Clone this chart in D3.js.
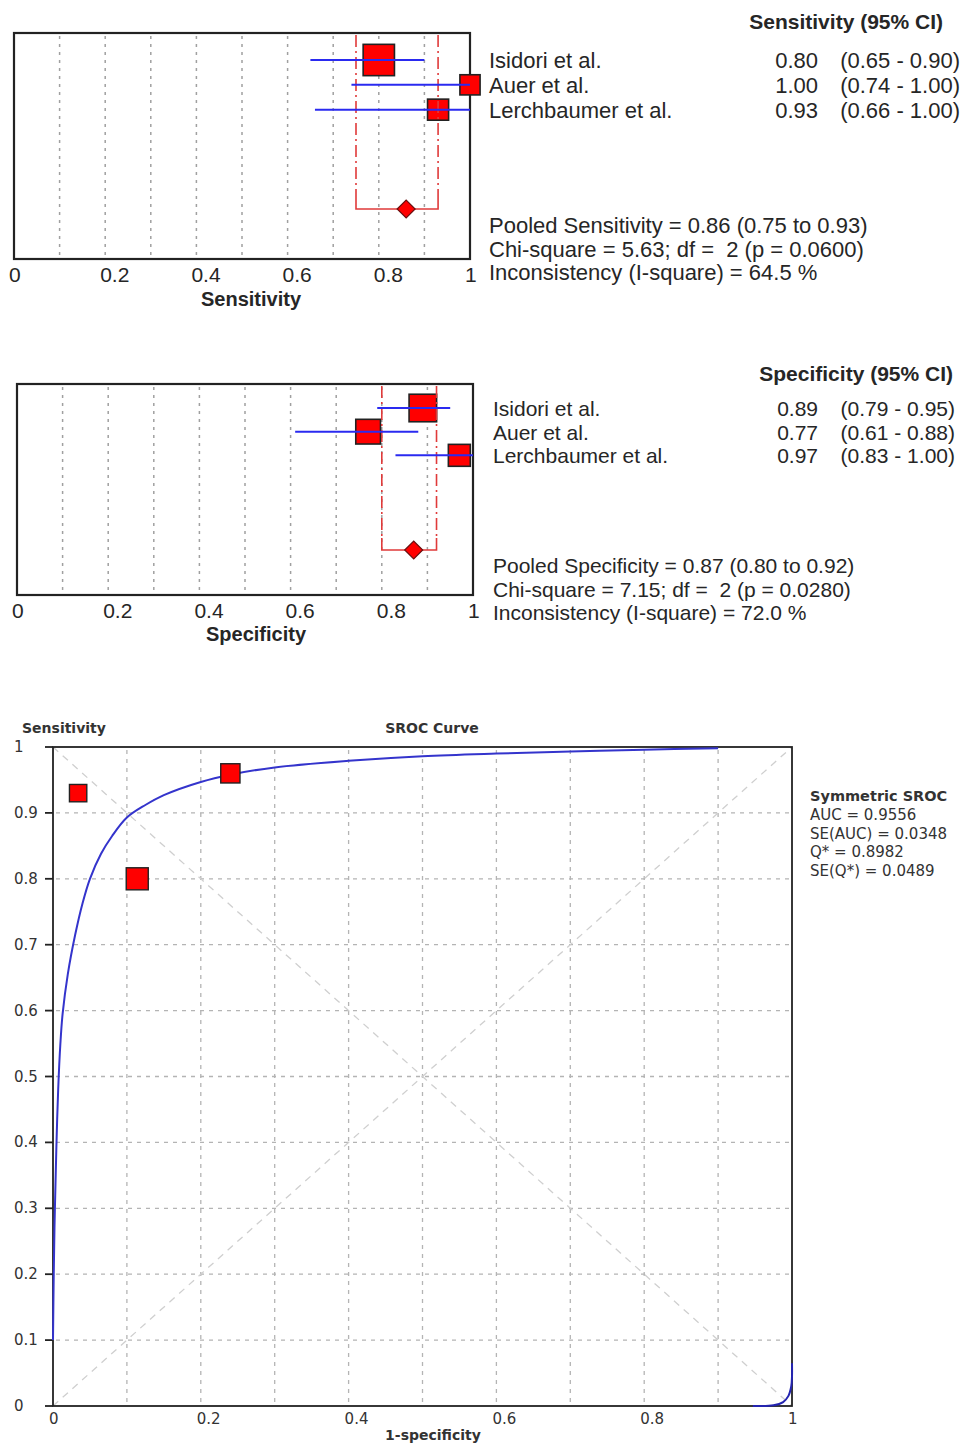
<!DOCTYPE html>
<html>
<head>
<meta charset="utf-8">
<script src="https://cdn.jsdelivr.net/npm/d3@7"></script>
<style>
  body { margin: 0; background: #fff; }
  svg text { white-space: pre; }
</style>
</head>
<body>
<svg width="965" height="1445"></svg>
<script>

// ---- data ----
var studies = ["Isidori et al.", "Auer et al.", "Lerchbaumer et al."];

var sensEst = [0.80, 1.00, 0.93];
var sensLow = [0.65, 0.74, 0.66];
var sensHigh = [0.90, 1.00, 1.00];
var sensWeight = [53, 22, 24];
var sensPooled = [0.86, 0.75, 0.93];
var sensStats = [
  "Pooled Sensitivity = 0.86 (0.75 to 0.93)",
  "Chi-square = 5.63; df =  2 (p = 0.0600)",
  "Inconsistency (I-square) = 64.5 %"
];

var specEst = [0.89, 0.77, 0.97];
var specLow = [0.79, 0.61, 0.83];
var specHigh = [0.95, 0.88, 1.00];
var specWeight = [41, 33, 26];
var specPooled = [0.87, 0.80, 0.92];
var specStats = [
  "Pooled Specificity = 0.87 (0.80 to 0.92)",
  "Chi-square = 7.15; df =  2 (p = 0.0280)",
  "Inconsistency (I-square) = 72.0 %"
];

var forestTicks = [0, 0.2, 0.4, 0.6, 0.8, 1];
var forestTickLabels = ["0", "0.2", "0.4", "0.6", "0.8", "1"];
var forestGrid = [0.1, 0.2, 0.3, 0.4, 0.5, 0.6, 0.7, 0.8, 0.9];

// SROC points (1-specificity, sensitivity)
var srocFpr = [0.114, 0.24, 0.034];
var srocTpr = [0.80, 0.96, 0.93];
var srocWeight = [42, 32, 26];

// symmetric SROC curve
var curveFpr = [0, 0.001, 0.002, 0.003, 0.0045, 0.007, 0.010, 0.013, 0.020, 0.030, 0.040, 0.050,
                0.065, 0.08, 0.10, 0.125, 0.15, 0.20, 0.24, 0.30, 0.40, 0.50, 0.60, 0.70, 0.80, 0.90];
var curveTpr = [0.10, 0.20, 0.27, 0.32, 0.39, 0.48, 0.55, 0.595, 0.655, 0.715, 0.763, 0.80,
                0.838, 0.865, 0.893, 0.912, 0.927, 0.947, 0.958, 0.969, 0.979, 0.986, 0.990, 0.993, 0.996, 0.998];
// small hook drawn at the lower right corner
var hookFpr = [0.947, 0.975, 0.988, 0.995, 0.999, 1.0, 1.0];
var hookTpr = [0.0, 0.001, 0.006, 0.015, 0.03, 0.045, 0.065];

var srocTicks = [0, 0.1, 0.2, 0.3, 0.4, 0.5, 0.6, 0.7, 0.8, 0.9, 1];
var srocYLabels = ["0", "0.1", "0.2", "0.3", "0.4", "0.5", "0.6", "0.7", "0.8", "0.9", "1"];
var srocXTicks = [0, 0.2, 0.4, 0.6, 0.8, 1];
var srocXLabels = ["0", "0.2", "0.4", "0.6", "0.8", "1"];
var srocLegend = ["Symmetric SROC", "AUC = 0.9556", "SE(AUC) = 0.0348", "Q* = 0.8982", "SE(Q*) = 0.0489"];

// ---- drawing ----
var svg = d3.select("svg");
var FONT = "'Liberation Sans', Arial, sans-serif";
var TXT = "#262626";

function forest(p) {
  var g = svg.append("g");
  var x = d3.scaleLinear().domain([0, 1]).range([p.left, p.right]);
  var y = d3.scaleLinear().domain([0, 6]).range([p.row0, p.pooledY]);
  var size = d3.scaleSqrt().domain([0, 100]).range([0, 43]);

  g.selectAll(".grid").data(forestGrid).enter().append("line")
      .attr("x1", x).attr("x2", x)
      .attr("y1", p.top + 3).attr("y2", p.bottom - 3)
      .attr("stroke", "#a0a0a0").attr("stroke-width", 1.5)
      .attr("stroke-dasharray", "3,5");

  g.append("rect")
      .attr("x", p.left).attr("y", p.top)
      .attr("width", p.right - p.left).attr("height", p.bottom - p.top)
      .attr("fill", "none").attr("stroke", "#222").attr("stroke-width", 2.2);

  // study squares
  g.selectAll(".sq").data(p.est).enter().append("rect")
      .attr("x", function(d, i) { return x(d) - size(p.weight[i]) / 2; })
      .attr("y", function(d, i) { return y(i) - size(p.weight[i]) / 2; })
      .attr("width", function(d, i) { return size(p.weight[i]); })
      .attr("height", function(d, i) { return size(p.weight[i]); })
      .attr("fill", "#ff0000").attr("stroke", "#222").attr("stroke-width", 1.6);

  // pooled interval: dash-dot verticals + bracket
  var lo = p.pooled[1], hi = p.pooled[2], py = y(6);
  g.selectAll(".pl").data([lo, hi]).enter().append("line")
      .attr("x1", x).attr("x2", x)
      .attr("y1", p.top + 2).attr("y2", py - 12)
      .attr("stroke", "#e03a3a").attr("stroke-width", 1.6)
      .attr("stroke-dasharray", "12,4,2,4");
  g.append("path")
      .attr("d", "M" + x(lo) + "," + (py - 12) + "V" + py + "H" + x(hi) + "V" + (py - 12))
      .attr("fill", "none").attr("stroke", "#e03a3a").attr("stroke-width", 1.6);
  var cx = x(p.pooled[0]);
  g.append("path")
      .attr("d", "M" + (cx - 9) + "," + py + "L" + cx + "," + (py - 9) + "L" + (cx + 9) + "," + py + "L" + cx + "," + (py + 9) + "Z")
      .attr("fill", "#ff0000").attr("stroke", "#6a1010").attr("stroke-width", 1.2);

  // CI lines
  g.selectAll(".ci").data(p.est).enter().append("line")
      .attr("x1", function(d, i) { return x(p.low[i]); })
      .attr("x2", function(d, i) { return x(p.high[i]); })
      .attr("y1", function(d, i) { return y(i); })
      .attr("y2", function(d, i) { return y(i); })
      .attr("stroke", "#2a2af0").attr("stroke-width", 2);

  // axis labels
  g.selectAll(".tk").data(forestTicks).enter().append("text")
      .attr("x", function(d) { return x(d) - 5; })
      .attr("y", p.tickY)
      .attr("font-family", FONT).attr("font-size", 21).attr("fill", TXT)
      .text(function(d, i) { return forestTickLabels[i]; });
  g.append("text")
      .attr("x", p.labelX).attr("y", p.labelY).attr("text-anchor", "middle")
      .attr("font-family", FONT).attr("font-size", 20).attr("font-weight", "bold").attr("fill", TXT)
      .text(p.label);

  // right-hand table
  g.append("text")
      .attr("x", p.headX).attr("y", p.headY).attr("text-anchor", "end")
      .attr("font-family", FONT).attr("font-size", 21).attr("font-weight", "bold").attr("fill", TXT)
      .text(p.label + " (95% CI)");
  var rows = g.selectAll(".row").data(studies).enter().append("g");
  rows.append("text")
      .attr("x", p.nameX).attr("y", function(d, i) { return y(i) + 8; })
      .attr("font-family", FONT).attr("font-size", p.fs).attr("fill", TXT)
      .text(function(d) { return d; });
  rows.append("text")
      .attr("x", p.valX).attr("y", function(d, i) { return y(i) + 8; })
      .attr("text-anchor", "end")
      .attr("font-family", FONT).attr("font-size", p.fs).attr("fill", TXT)
      .text(function(d, i) { return p.est[i].toFixed(2); });
  rows.append("text")
      .attr("x", p.ciX).attr("y", function(d, i) { return y(i) + 8; })
      .attr("text-anchor", "end")
      .attr("font-family", FONT).attr("font-size", p.fs).attr("fill", TXT)
      .text(function(d, i) { return "(" + p.low[i].toFixed(2) + " - " + p.high[i].toFixed(2) + ")"; });

  g.selectAll(".st").data(p.stats).enter().append("text")
      .attr("x", p.nameX).attr("y", function(d, i) { return py + p.statDy + i * 23.5; })
      .attr("font-family", FONT).attr("font-size", p.fs).attr("fill", TXT)
      .text(function(d) { return d; });
}

forest({
  est: sensEst, low: sensLow, high: sensHigh, weight: sensWeight, pooled: sensPooled, stats: sensStats,
  label: "Sensitivity",
  left: 14, right: 470, top: 33, bottom: 259, row0: 60, pooledY: 209,
  tickY: 282, labelX: 251, labelY: 306, fs: 22,
  headX: 943, headY: 29, nameX: 489, valX: 818, ciX: 960, statDy: 24
});

forest({
  est: specEst, low: specLow, high: specHigh, weight: specWeight, pooled: specPooled, stats: specStats,
  label: "Specificity",
  left: 17, right: 473, top: 384, bottom: 595, row0: 408, pooledY: 550,
  tickY: 618, labelX: 256, labelY: 641, fs: 21,
  headX: 953, headY: 381, nameX: 493, valX: 818, ciX: 955, statDy: 23
});

// ---- SROC plot ----
var SF = "'DejaVu Sans', Verdana, sans-serif";
var sx = d3.scaleLinear().domain([0, 1]).range([53, 792]);
var sy = d3.scaleLinear().domain([0, 1]).range([1406, 747]);
var ssize = d3.scaleSqrt().domain([0, 100]).range([0, 34]);
var sg = svg.append("g");

var inner = srocTicks.slice(1, -1);
sg.selectAll(".vg").data(inner).enter().append("line")
    .attr("x1", sx).attr("x2", sx).attr("y1", sy(1) + 3).attr("y2", sy(0) - 3)
    .attr("stroke", "#b4b4b4").attr("stroke-width", 1.3).attr("stroke-dasharray", "4,5");
sg.selectAll(".hg").data(inner).enter().append("line")
    .attr("y1", sy).attr("y2", sy).attr("x1", sx(0) + 3).attr("x2", sx(1) - 3)
    .attr("stroke", "#b4b4b4").attr("stroke-width", 1.3).attr("stroke-dasharray", "4,5");

// diagonals
sg.append("line").attr("x1", sx(0)).attr("y1", sy(1)).attr("x2", sx(1)).attr("y2", sy(0))
    .attr("stroke", "#cfcfcf").attr("stroke-width", 1.3).attr("stroke-dasharray", "7,6");
sg.append("line").attr("x1", sx(0)).attr("y1", sy(0)).attr("x2", sx(1)).attr("y2", sy(1))
    .attr("stroke", "#cfcfcf").attr("stroke-width", 1.3).attr("stroke-dasharray", "7,6");

sg.append("rect").attr("x", sx(0)).attr("y", sy(1))
    .attr("width", sx(1) - sx(0)).attr("height", sy(0) - sy(1))
    .attr("fill", "none").attr("stroke", "#222").attr("stroke-width", 1.8);

// y ticks
sg.selectAll(".ytm").data(srocTicks).enter().append("line")
    .attr("x1", sx(0) - 8).attr("x2", sx(0)).attr("y1", sy).attr("y2", sy)
    .attr("stroke", "#222").attr("stroke-width", 1.8);
sg.selectAll(".ytl").data(srocTicks).enter().append("text")
    .attr("x", 14).attr("y", function(d) { return sy(d) + 5; })
    .attr("font-family", SF).attr("font-size", 15).attr("fill", "#333")
    .text(function(d, i) { return srocYLabels[i]; });
sg.selectAll(".xtl").data(srocXTicks).enter().append("text")
    .attr("x", function(d) { return sx(d) - 4; }).attr("y", 1424)
    .attr("font-family", SF).attr("font-size", 15).attr("fill", "#333")
    .text(function(d, i) { return srocXLabels[i]; });

// curve
function srocLine(xs, ys) {
  return d3.line()
      .x(function(d) { return sx(d[0]); })
      .y(function(d) { return sy(d[1]); })
      .curve(d3.curveCatmullRom)(d3.zip(xs, ys));
}
sg.append("path").attr("d", srocLine(curveFpr, curveTpr))
    .attr("fill", "none").attr("stroke", "#3434cc").attr("stroke-width", 2);
sg.append("path").attr("d", srocLine(hookFpr, hookTpr))
    .attr("fill", "none").attr("stroke", "#2424b0").attr("stroke-width", 2);

// study points
sg.selectAll(".pt").data(srocFpr).enter().append("rect")
    .attr("x", function(d, i) { return sx(d) - ssize(srocWeight[i]) / 2; })
    .attr("y", function(d, i) { return sy(srocTpr[i]) - ssize(srocWeight[i]) / 2; })
    .attr("width", function(d, i) { return ssize(srocWeight[i]); })
    .attr("height", function(d, i) { return ssize(srocWeight[i]); })
    .attr("fill", "#ff0000").attr("stroke", "#222").attr("stroke-width", 1.4);

// titles
sg.append("text").attr("x", 22).attr("y", 733)
    .attr("font-family", SF).attr("font-size", 14).attr("font-weight", "bold").attr("fill", "#333")
    .text("Sensitivity");
sg.append("text").attr("x", 432).attr("y", 733).attr("text-anchor", "middle")
    .attr("font-family", SF).attr("font-size", 14).attr("font-weight", "bold").attr("fill", "#333")
    .text("SROC Curve");
sg.append("text").attr("x", 433).attr("y", 1440).attr("text-anchor", "middle")
    .attr("font-family", SF).attr("font-size", 14).attr("font-weight", "bold").attr("fill", "#333")
    .text("1-specificity");

sg.selectAll(".lg").data(srocLegend).enter().append("text")
    .attr("x", 810).attr("y", function(d, i) { return 801 + i * 18.8; })
    .attr("font-family", SF)
    .attr("font-size", function(d, i) { return i === 0 ? 14.5 : 15; })
    .attr("font-weight", function(d, i) { return i === 0 ? "bold" : "normal"; })
    .attr("fill", "#333")
    .text(function(d) { return d; });

</script>
</body>
</html>
